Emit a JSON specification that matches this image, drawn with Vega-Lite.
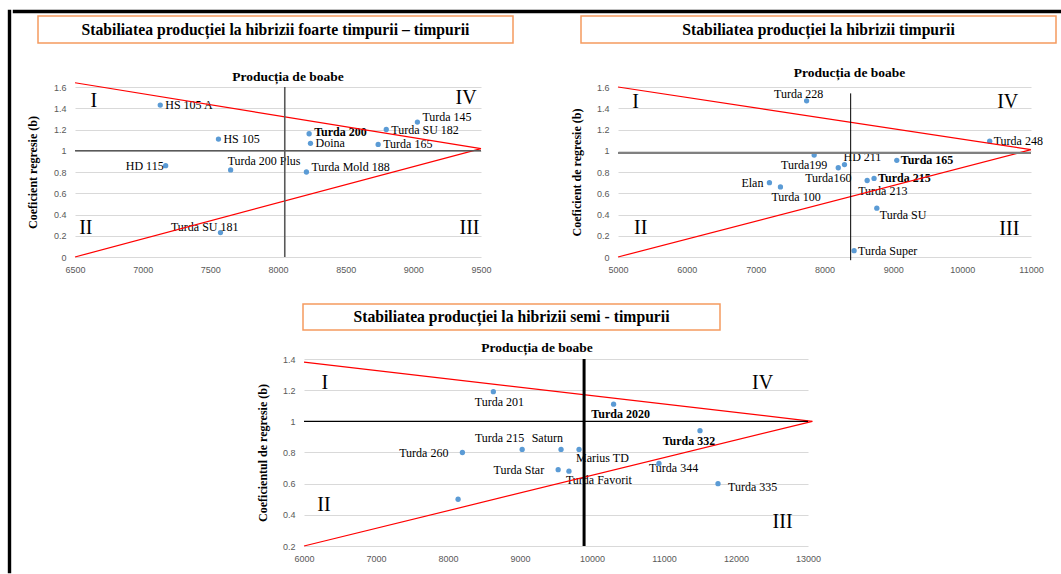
{
  "$schema": "https://vega.github.io/schema/vega-lite/v6.json",
  "background": "white",
  "padding": {"left": 7, "top": 9, "right": 0, "bottom": 0},
  "spacing": 0,
  "config": {
    "view": {"stroke": null},
    "axis": {"domain": false, "ticks": false, "labelFlush": false, "labelFont": "Liberation Sans", "labelFontSize": 9, "labelColor": "#595959", "titleFont": "Liberation Serif", "titleFontSize": 12, "titleFontWeight": "bold", "titleColor": "#000000"},
    "axisX": {"grid": false, "labelPadding": 8},
    "axisY": {"grid": true, "gridColor": "#d9d9d9", "gridWidth": 1, "labelPadding": 9}
  },
  "datasets": {
    "p1": [
      {"name": "HS 105 A", "x": 7130, "y": 1.43},
      {"name": "HS 105", "x": 7560, "y": 1.11},
      {"name": "HD 115", "x": 7170, "y": 0.86},
      {"name": "Turda 200 Plus", "x": 7650, "y": 0.82},
      {"name": "Turda SU 181", "x": 7575, "y": 0.23},
      {"name": "Turda 200", "x": 8230, "y": 1.16},
      {"name": "Doina", "x": 8240, "y": 1.07},
      {"name": "Turda Mold 188", "x": 8210, "y": 0.8},
      {"name": "Turda 165", "x": 8740, "y": 1.06},
      {"name": "Turda SU 182", "x": 8800, "y": 1.2},
      {"name": "Turda 145", "x": 9030, "y": 1.27}
    ],
    "p2": [
      {"name": "Turda 228", "x": 7740, "y": 1.47},
      {"name": "Turda 248", "x": 10400, "y": 1.09},
      {"name": "Turda199", "x": 7850, "y": 0.96},
      {"name": "HD 211", "x": 8290, "y": 0.87},
      {"name": "Turda160", "x": 8200, "y": 0.84},
      {"name": "Elan", "x": 7200, "y": 0.7},
      {"name": "Turda 100", "x": 7360, "y": 0.66},
      {"name": "Turda 213", "x": 8620, "y": 0.72},
      {"name": "Turda 215", "x": 8720, "y": 0.74},
      {"name": "Turda 165", "x": 9050, "y": 0.91},
      {"name": "Turda SU", "x": 8760, "y": 0.46},
      {"name": "Turda Super", "x": 8430, "y": 0.06}
    ],
    "p3": [
      {"name": "Turda 201", "x": 8630, "y": 1.19},
      {"name": "Turda 2020", "x": 10300, "y": 1.11},
      {"name": "Turda 215", "x": 9030, "y": 0.82},
      {"name": "Turda 260", "x": 8200, "y": 0.8},
      {"name": "Saturn", "x": 9570, "y": 0.82},
      {"name": "Marius TD", "x": 9820, "y": 0.82},
      {"name": "Turda Star", "x": 9530, "y": 0.69},
      {"name": "Turda Favorit", "x": 9680, "y": 0.68},
      {"name": "Turda 332", "x": 11500, "y": 0.94},
      {"name": "Turda 344", "x": 10930, "y": 0.73},
      {"name": "Turda 335", "x": 11750, "y": 0.6},
      {"name": "", "x": 8140, "y": 0.5}
    ],
    "r1": [
      {"line": "upper", "x": 6500, "y": 1.64}, {"line": "upper", "x": 9500, "y": 1.02},
      {"line": "lower", "x": 6500, "y": 0}, {"line": "lower", "x": 9500, "y": 1.02}
    ],
    "r2": [
      {"line": "upper", "x": 5000, "y": 1.6}, {"line": "upper", "x": 11000, "y": 1.01},
      {"line": "lower", "x": 5000, "y": 0}, {"line": "lower", "x": 11000, "y": 1.01}
    ],
    "r3": [
      {"line": "upper", "x": 6000, "y": 1.38}, {"line": "upper", "x": 13060, "y": 1.0},
      {"line": "lower", "x": 6000, "y": 0.2}, {"line": "lower", "x": 13060, "y": 1.0}
    ],
    "q1": [
      {"label": "I", "x": 6640, "y": 1.47}, {"label": "IV", "x": 9390, "y": 1.5},
      {"label": "II", "x": 6580, "y": 0.27}, {"label": "III", "x": 9415, "y": 0.27}
    ],
    "q2": [
      {"label": "I", "x": 5257, "y": 1.46}, {"label": "IV", "x": 10662, "y": 1.46},
      {"label": "II", "x": 5330, "y": 0.27}, {"label": "III", "x": 10685, "y": 0.26}
    ],
    "q3": [
      {"label": "I", "x": 6288, "y": 1.244}, {"label": "IV", "x": 12369, "y": 1.244},
      {"label": "II", "x": 6278, "y": 0.463}, {"label": "III", "x": 12647, "y": 0.356}
    ]
  },
  "hconcat": [
    {"width": 1, "height": 561, "view": {"stroke": "#000000", "strokeWidth": 2.4}, "data": {"values": []}, "mark": "point"},
    {
      "spacing": 0,
      "vconcat": [
        {"width": 1048, "height": 1, "view": {"stroke": "#000000", "strokeWidth": 2.4}, "data": {"values": []}, "mark": "point"},
        {"width": 1, "height": 0.5, "data": {"values": []}, "mark": "point"},
        {
          "hconcat": [
            {"width": 23.6, "height": 1, "data": {"values": []}, "mark": "point"},
            {
              "width": 475, "height": 27,
              "view": {"stroke": "#f59b5f", "strokeWidth": 1.5, "fill": "white"},
              "data": {"values": [{"t": "Stabiliatea producției la hibrizii foarte timpurii – timpurii"}]},
              "mark": {"type": "text", "font": "Liberation Serif", "fontSize": 15.7, "fontWeight": "bold", "color": "#000000"},
              "encoding": {"text": {"field": "t"}}
            },
            {"width": 68, "height": 1, "data": {"values": []}, "mark": "point"},
            {
              "width": 475, "height": 27,
              "view": {"stroke": "#f59b5f", "strokeWidth": 1.5, "fill": "white"},
              "data": {"values": [{"t": "Stabiliatea producției la hibrizii timpurii"}]},
              "mark": {"type": "text", "font": "Liberation Serif", "fontSize": 15.7, "fontWeight": "bold", "color": "#000000"},
              "encoding": {"text": {"field": "t"}}
            }
          ],
          "spacing": 0,
          "bounds": "flush"
        },
        {"width": 1, "height": 21, "data": {"values": []}, "mark": "point"},
        {
          "hconcat": [
            {"width": 60.6, "height": 1, "data": {"values": []}, "mark": "point"},
            {
              "width": 406, "height": 170,
              "title": {"text": "Producția de boabe", "font": "Liberation Serif", "fontSize": 13.5, "fontWeight": "bold", "color": "#000000", "anchor": "middle", "frame": "group", "baseline": "alphabetic", "offset": -14, "dx": 10},
              "data": {"name": "p1"},
              "encoding": {
                "x": {"field": "x", "type": "quantitative", "scale": {"domain": [6500, 9500], "nice": false, "zero": false}, "axis": {"values": [6500, 7000, 7500, 8000, 8500, 9000, 9500], "format": "d", "title": null}},
                "y": {"field": "y", "type": "quantitative", "scale": {"domain": [0, 1.6], "nice": false, "zero": false}, "axis": {"values": [0, 0.2, 0.4, 0.6, 0.8, 1, 1.2, 1.4, 1.6], "format": "~g", "title": "Coeficient regresie (b)", "titlePadding": 14}}
              },
              "layer": [
                {"mark": {"type": "circle", "size": 28, "color": "#5b9bd5", "opacity": 1}},
                {"transform": [{"filter": {"field": "name", "oneOf": ["HS 105 A", "HS 105", "Doina", "Turda 165", "Turda SU 182"]}}], "mark": {"type": "text", "font": "Liberation Serif", "fontSize": 12, "color": "#000000", "align": "left", "baseline": "middle", "dx": 5}, "encoding": {"text": {"field": "name"}}},
                {"transform": [{"filter": {"field": "name", "oneOf": ["Turda 200"]}}], "mark": {"type": "text", "font": "Liberation Serif", "fontSize": 12, "fontWeight": "bold", "color": "#000000", "align": "left", "baseline": "middle", "dx": 5, "dy": -2}, "encoding": {"text": {"field": "name"}}},
                {"transform": [{"filter": {"field": "name", "oneOf": ["Turda Mold 188", "Turda 145"]}}], "mark": {"type": "text", "font": "Liberation Serif", "fontSize": 12, "color": "#000000", "align": "left", "baseline": "middle", "dx": 5, "dy": -5}, "encoding": {"text": {"field": "name"}}},
                {"transform": [{"filter": {"field": "name", "oneOf": ["HD 115"]}}], "mark": {"type": "text", "font": "Liberation Serif", "fontSize": 12, "color": "#000000", "align": "right", "baseline": "middle", "dx": -2}, "encoding": {"text": {"field": "name"}}},
                {"transform": [{"filter": {"field": "name", "oneOf": ["Turda 200 Plus"]}}], "mark": {"type": "text", "font": "Liberation Serif", "fontSize": 12, "color": "#000000", "align": "left", "baseline": "middle", "dx": -3, "dy": -9}, "encoding": {"text": {"field": "name"}}},
                {"transform": [{"filter": {"field": "name", "oneOf": ["Turda SU 181"]}}], "mark": {"type": "text", "font": "Liberation Serif", "fontSize": 12, "color": "#000000", "align": "right", "baseline": "middle", "dx": 18, "dy": -6}, "encoding": {"text": {"field": "name"}}},
                {"data": {"name": "r1"}, "mark": {"type": "line", "color": "#ff0000", "strokeWidth": 1.2}, "encoding": {"detail": {"field": "line"}}},
                {"data": {"values": [{"x": 8050, "y": 0, "x2": 8050, "y2": 1.6}, {"x": 6500, "y": 1, "x2": 9500, "y2": 1}]}, "mark": {"type": "rule", "color": "#595959", "strokeWidth": 1.6}, "encoding": {"x2": {"field": "x2"}, "y2": {"field": "y2"}}},
                {"data": {"name": "q1"}, "mark": {"type": "text", "font": "Liberation Serif", "fontSize": 20, "color": "#000000", "baseline": "middle"}, "encoding": {"text": {"field": "label"}}}
              ]
            },
            {"width": 137, "height": 1, "data": {"values": []}, "mark": "point"},
            {
              "width": 413, "height": 170,
              "title": {"text": "Producția de boabe", "font": "Liberation Serif", "fontSize": 13.5, "fontWeight": "bold", "color": "#000000", "anchor": "middle", "frame": "group", "baseline": "alphabetic", "offset": -7, "dx": 25},
              "data": {"name": "p2"},
              "encoding": {
                "x": {"field": "x", "type": "quantitative", "scale": {"domain": [5000, 11000], "nice": false, "zero": false}, "axis": {"values": [5000, 6000, 7000, 8000, 9000, 10000, 11000], "format": "d", "title": null}},
                "y": {"field": "y", "type": "quantitative", "scale": {"domain": [0, 1.6], "nice": false, "zero": false}, "axis": {"values": [0, 0.2, 0.4, 0.6, 0.8, 1, 1.2, 1.4, 1.6], "format": "~g", "title": "Coeficient de regresie (b)", "titlePadding": 13}}
              },
              "layer": [
                {"mark": {"type": "circle", "size": 28, "color": "#5b9bd5", "opacity": 1}},
                {"transform": [{"filter": {"field": "name", "oneOf": ["Turda 248", "Turda Super"]}}], "mark": {"type": "text", "font": "Liberation Serif", "fontSize": 12, "color": "#000000", "align": "left", "baseline": "middle", "dx": 4}, "encoding": {"text": {"field": "name"}}},
                {"transform": [{"filter": {"field": "name", "oneOf": ["Turda 215", "Turda 165"]}}], "mark": {"type": "text", "font": "Liberation Serif", "fontSize": 12, "fontWeight": "bold", "color": "#000000", "align": "left", "baseline": "middle", "dx": 4}, "encoding": {"text": {"field": "name"}}},
                {"transform": [{"filter": {"field": "name", "oneOf": ["Elan"]}}], "mark": {"type": "text", "font": "Liberation Serif", "fontSize": 12, "color": "#000000", "align": "right", "baseline": "middle", "dx": -6}, "encoding": {"text": {"field": "name"}}},
                {"transform": [{"filter": {"field": "name", "oneOf": ["Turda 228"]}}], "mark": {"type": "text", "font": "Liberation Serif", "fontSize": 12, "color": "#000000", "align": "center", "baseline": "middle", "dx": -8, "dy": -7}, "encoding": {"text": {"field": "name"}}},
                {"transform": [{"filter": {"field": "name", "oneOf": ["Turda199", "Turda160"]}}], "mark": {"type": "text", "font": "Liberation Serif", "fontSize": 12, "color": "#000000", "align": "center", "baseline": "middle", "dx": -10, "dy": 10}, "encoding": {"text": {"field": "name"}}},
                {"transform": [{"filter": {"field": "name", "oneOf": ["HD 211"]}}], "mark": {"type": "text", "font": "Liberation Serif", "fontSize": 12, "color": "#000000", "align": "left", "baseline": "middle", "dx": -1, "dy": -8}, "encoding": {"text": {"field": "name"}}},
                {"transform": [{"filter": {"field": "name", "oneOf": ["Turda 100", "Turda 213"]}}], "mark": {"type": "text", "font": "Liberation Serif", "fontSize": 12, "color": "#000000", "align": "left", "baseline": "middle", "dx": -9, "dy": 10}, "encoding": {"text": {"field": "name"}}},
                {"transform": [{"filter": {"field": "name", "oneOf": ["Turda SU"]}}], "mark": {"type": "text", "font": "Liberation Serif", "fontSize": 12, "color": "#000000", "align": "left", "baseline": "middle", "dx": 3, "dy": 7}, "encoding": {"text": {"field": "name"}}},
                {"data": {"name": "r2"}, "mark": {"type": "line", "color": "#ff0000", "strokeWidth": 1.2}, "encoding": {"detail": {"field": "line"}}},
                {"data": {"values": [{"x": 5000, "y": 0.98, "x2": 11000, "y2": 0.98}]}, "mark": {"type": "rule", "color": "#808080", "strokeWidth": 2}, "encoding": {"x2": {"field": "x2"}, "y2": {"field": "y2"}}},
                {"data": {"values": [{"x": 8380, "y": -0.03, "x2": 8380, "y2": 1.54}]}, "mark": {"type": "rule", "color": "#000000", "strokeWidth": 1}, "encoding": {"x2": {"field": "x2"}, "y2": {"field": "y2"}}},
                {"data": {"name": "q2"}, "mark": {"type": "text", "font": "Liberation Serif", "fontSize": 20, "color": "#000000", "baseline": "middle"}, "encoding": {"text": {"field": "label"}}}
              ]
            }
          ],
          "spacing": 0,
          "bounds": "flush"
        },
        {"width": 1, "height": 29, "data": {"values": []}, "mark": "point"},
        {
          "hconcat": [
            {"width": 288.6, "height": 1, "data": {"values": []}, "mark": "point"},
            {
              "width": 417, "height": 26,
              "view": {"stroke": "#f59b5f", "strokeWidth": 1.5, "fill": "white"},
              "data": {"values": [{"t": "Stabiliatea producției la hibrizii semi - timpurii"}]},
              "mark": {"type": "text", "font": "Liberation Serif", "fontSize": 15.7, "fontWeight": "bold", "color": "#000000"},
              "encoding": {"text": {"field": "t"}}
            }
          ],
          "spacing": 0,
          "bounds": "flush"
        },
        {"width": 1, "height": 9, "data": {"values": []}, "mark": "point"},
        {
          "hconcat": [
            {"width": 289.6, "height": 1, "data": {"values": []}, "mark": "point"},
            {
              "width": 504, "height": 187,
              "title": {"text": "Producția de boabe", "font": "Liberation Serif", "fontSize": 13.5, "fontWeight": "bold", "color": "#000000", "anchor": "middle", "frame": "group", "baseline": "alphabetic", "offset": -10, "dx": -19},
              "data": {"name": "p3"},
              "encoding": {
                "x": {"field": "x", "type": "quantitative", "scale": {"domain": [6000, 13000], "nice": false, "zero": false}, "axis": {"values": [6000, 7000, 8000, 9000, 10000, 11000, 12000, 13000], "format": "d", "title": null}},
                "y": {"field": "y", "type": "quantitative", "scale": {"domain": [0.2, 1.4], "nice": false, "zero": false}, "axis": {"values": [0.2, 0.4, 0.6, 0.8, 1, 1.2, 1.4], "format": "~g", "title": "Coeficientul de regresie (b)", "titlePadding": 13}}
              },
              "layer": [
                {"mark": {"type": "circle", "size": 28, "color": "#5b9bd5", "opacity": 1}},
                {"transform": [{"filter": {"field": "name", "oneOf": ["Turda 201"]}}], "mark": {"type": "text", "font": "Liberation Serif", "fontSize": 12, "color": "#000000", "align": "center", "baseline": "middle", "dx": 6, "dy": 10}, "encoding": {"text": {"field": "name"}}},
                {"transform": [{"filter": {"field": "name", "oneOf": ["Turda 2020"]}}], "mark": {"type": "text", "font": "Liberation Serif", "fontSize": 12, "fontWeight": "bold", "color": "#000000", "align": "center", "baseline": "middle", "dx": 7, "dy": 10}, "encoding": {"text": {"field": "name"}}},
                {"transform": [{"filter": {"field": "name", "oneOf": ["Turda 332"]}}], "mark": {"type": "text", "font": "Liberation Serif", "fontSize": 12, "fontWeight": "bold", "color": "#000000", "align": "center", "baseline": "middle", "dx": -11, "dy": 10}, "encoding": {"text": {"field": "name"}}},
                {"transform": [{"filter": {"field": "name", "oneOf": ["Turda 215", "Saturn"]}}], "mark": {"type": "text", "font": "Liberation Serif", "fontSize": 12, "color": "#000000", "align": "right", "baseline": "middle", "dx": 2, "dy": -11}, "encoding": {"text": {"field": "name"}}},
                {"transform": [{"filter": {"field": "name", "oneOf": ["Turda 260", "Turda Star"]}}], "mark": {"type": "text", "font": "Liberation Serif", "fontSize": 12, "color": "#000000", "align": "right", "baseline": "middle", "dx": -14}, "encoding": {"text": {"field": "name"}}},
                {"transform": [{"filter": {"field": "name", "oneOf": ["Marius TD", "Turda Favorit"]}}], "mark": {"type": "text", "font": "Liberation Serif", "fontSize": 12, "color": "#000000", "align": "left", "baseline": "middle", "dx": -3, "dy": 9}, "encoding": {"text": {"field": "name"}}},
                {"transform": [{"filter": {"field": "name", "oneOf": ["Turda 344"]}}], "mark": {"type": "text", "font": "Liberation Serif", "fontSize": 12, "color": "#000000", "align": "left", "baseline": "middle", "dx": -10, "dy": 5}, "encoding": {"text": {"field": "name"}}},
                {"transform": [{"filter": {"field": "name", "oneOf": ["Turda 335"]}}], "mark": {"type": "text", "font": "Liberation Serif", "fontSize": 12, "color": "#000000", "align": "left", "baseline": "middle", "dx": 10, "dy": 3}, "encoding": {"text": {"field": "name"}}},
                {"data": {"name": "r3"}, "mark": {"type": "line", "color": "#ff0000", "strokeWidth": 1.2}, "encoding": {"detail": {"field": "line"}}},
                {"data": {"values": [{"x": 6000, "y": 1, "x2": 13000, "y2": 1}]}, "mark": {"type": "rule", "color": "#000000", "strokeWidth": 1.2}, "encoding": {"x2": {"field": "x2"}, "y2": {"field": "y2"}}},
                {"data": {"values": [{"x": 9890, "y": 0.2, "x2": 9890, "y2": 1.4}]}, "mark": {"type": "rule", "color": "#000000", "strokeWidth": 3}, "encoding": {"x2": {"field": "x2"}, "y2": {"field": "y2"}}},
                {"data": {"name": "q3"}, "mark": {"type": "text", "font": "Liberation Serif", "fontSize": 20, "color": "#000000", "baseline": "middle"}, "encoding": {"text": {"field": "label"}}}
              ]
            }
          ],
          "spacing": 0,
          "bounds": "flush"
        }
      ]
    }
  ]
}
